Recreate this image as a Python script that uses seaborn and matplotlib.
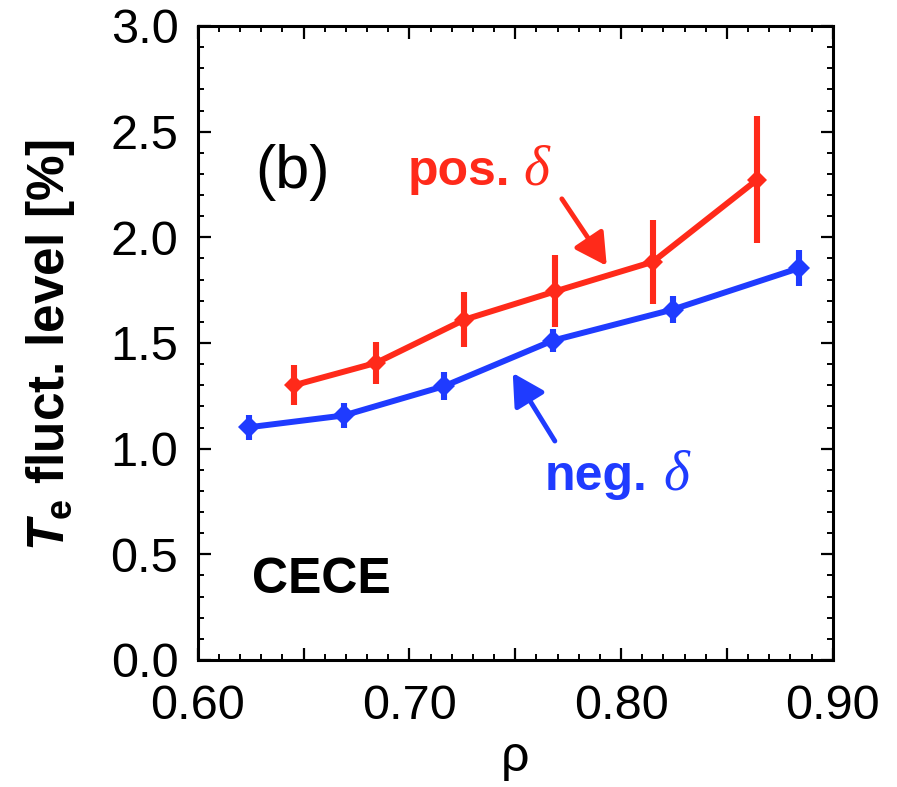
import numpy as np
import pandas as pd
import matplotlib
matplotlib.use("Agg")
import matplotlib.pyplot as plt
import matplotlib.ticker as mticker
import seaborn as sns

# ---- data ----
rho_neg = [0.624, 0.669, 0.7165, 0.7676, 0.8243, 0.884]
lvl_neg = [1.101, 1.157, 1.296, 1.511, 1.658, 1.854]
err_neg = [0.06, 0.06, 0.065, 0.055, 0.065, 0.085]

rho_pos = [0.6455, 0.6843, 0.7259, 0.7688, 0.815, 0.8642]
lvl_pos = [1.300, 1.406, 1.610, 1.744, 1.884, 2.272]
err_pos = [0.095, 0.10, 0.13, 0.17, 0.20, 0.30]

x_ticks = [0.60, 0.65, 0.70, 0.75, 0.80, 0.85, 0.90]
x_labels = ["0.60", "", "0.70", "", "0.80", "", "0.90"]
y_ticks = [0.0, 0.5, 1.0, 1.5, 2.0, 2.5, 3.0]
y_labels = ["0.0", "0.5", "1.0", "1.5", "2.0", "2.5", "3.0"]

RED = "#FF2A1A"
BLUE = "#1F3BFF"

sns.set_theme(style="white")
plt.rcParams["font.family"] = ["Liberation Sans", "DejaVu Sans"]
plt.rcParams["text.color"] = "black"
plt.rcParams["axes.labelcolor"] = "black"
plt.rcParams["xtick.color"] = "black"
plt.rcParams["ytick.color"] = "black"
plt.rcParams["mathtext.fontset"] = "custom"
plt.rcParams["mathtext.rm"] = "Liberation Sans"
plt.rcParams["mathtext.bf"] = "Liberation Sans:bold"
plt.rcParams["mathtext.it"] = "Liberation Sans:italic"
plt.rcParams["mathtext.bfit"] = "Liberation Sans:bold:italic"

fig = plt.figure(figsize=(8.97, 7.87), dpi=100)
fig.patch.set_facecolor("white")
ax = fig.add_axes([0.2205, 0.1614, 0.9284 - 0.2205, 0.967 - 0.1614])

df_neg = pd.DataFrame({"rho": rho_neg, "lvl": lvl_neg})
df_pos = pd.DataFrame({"rho": rho_pos, "lvl": lvl_pos})

# error bars
ax.errorbar(rho_pos, lvl_pos, yerr=err_pos, fmt="none", ecolor=RED,
            elinewidth=4.4, capsize=0, zorder=2)
ax.errorbar(rho_neg, lvl_neg, yerr=err_neg, fmt="none", ecolor=BLUE,
            elinewidth=4.4, capsize=0, zorder=2)

sns.lineplot(data=df_pos, x="rho", y="lvl", ax=ax, color=RED, lw=4.3,
             marker="D", markersize=10, markeredgewidth=0, zorder=3)
sns.lineplot(data=df_neg, x="rho", y="lvl", ax=ax, color=BLUE, lw=4.3,
             marker="D", markersize=11, markeredgewidth=0, zorder=3)

ax.set_xlim(0.60, 0.90)
ax.set_ylim(0.0, 3.0)
ax.xaxis.set_major_locator(mticker.FixedLocator(x_ticks))
ax.xaxis.set_major_formatter(mticker.FixedFormatter(x_labels))
ax.yaxis.set_major_locator(mticker.FixedLocator(y_ticks))
ax.yaxis.set_major_formatter(mticker.FixedFormatter(y_labels))
ax.xaxis.set_minor_locator(mticker.MultipleLocator(0.01))
ax.yaxis.set_minor_locator(mticker.MultipleLocator(0.1))

ax.tick_params(which="both", direction="in", top=True, right=True,
               bottom=True, left=True, color="black", labelcolor="black")
ax.tick_params(which="major", length=9, width=1.6, labelsize=35)
ax.tick_params(which="minor", length=4.5, width=1.4)
ax.tick_params(axis="y", which="major", pad=14)
ax.tick_params(axis="x", which="major", pad=17)

for s in ax.spines.values():
    s.set_color("black")
    s.set_linewidth(2.2)

ax.set_xlabel("ρ", fontsize=36, color="black")
ax.xaxis.set_label_coords(0.5, -0.118)
ax.set_ylabel(r"$\mathbfit{T}_{\mathbf{e}}$ fluct. level [%]", fontsize=37,
              fontweight="bold", color="black")
ax.yaxis.set_label_coords(-0.19, 0.497)

# annotations
ax.text(0.627, 2.234, "(b)", fontsize=44, color="black", va="baseline", ha="left")
ax.text(0.6993, 2.248, "pos.", fontsize=36, fontweight="bold", color=RED,
        va="baseline", ha="left")
ax.text(0.7537, 2.248, "δ", fontsize=40, style="italic", color=RED,
        family=["Liberation Serif", "DejaVu Serif"], va="baseline", ha="left")
ax.text(0.764, 0.8045, "neg.", fontsize=36, fontweight="bold", color=BLUE,
        va="baseline", ha="left")
ax.text(0.8198, 0.8045, "δ", fontsize=40, style="italic", color=BLUE,
        family=["Liberation Serif", "DejaVu Serif"], va="baseline", ha="left")
ax.text(0.6255, 0.317, "CECE", fontsize=36, fontweight="bold", color="black",
        va="baseline", ha="left")

ax.annotate("", xy=(0.7932, 1.865), xytext=(0.772, 2.182),
            arrowprops=dict(arrowstyle="-|>,head_length=0.4,head_width=0.22",
                            mutation_scale=48, lw=3.5, color=RED,
                            shrinkA=0, shrinkB=0))
ax.annotate("", xy=(0.7488, 1.358), xytext=(0.7687, 1.036),
            arrowprops=dict(arrowstyle="-|>,head_length=0.4,head_width=0.22",
                            mutation_scale=48, lw=3.5, color=BLUE,
                            shrinkA=0, shrinkB=0))

fig.savefig("out.png", dpi=100, facecolor="white")
